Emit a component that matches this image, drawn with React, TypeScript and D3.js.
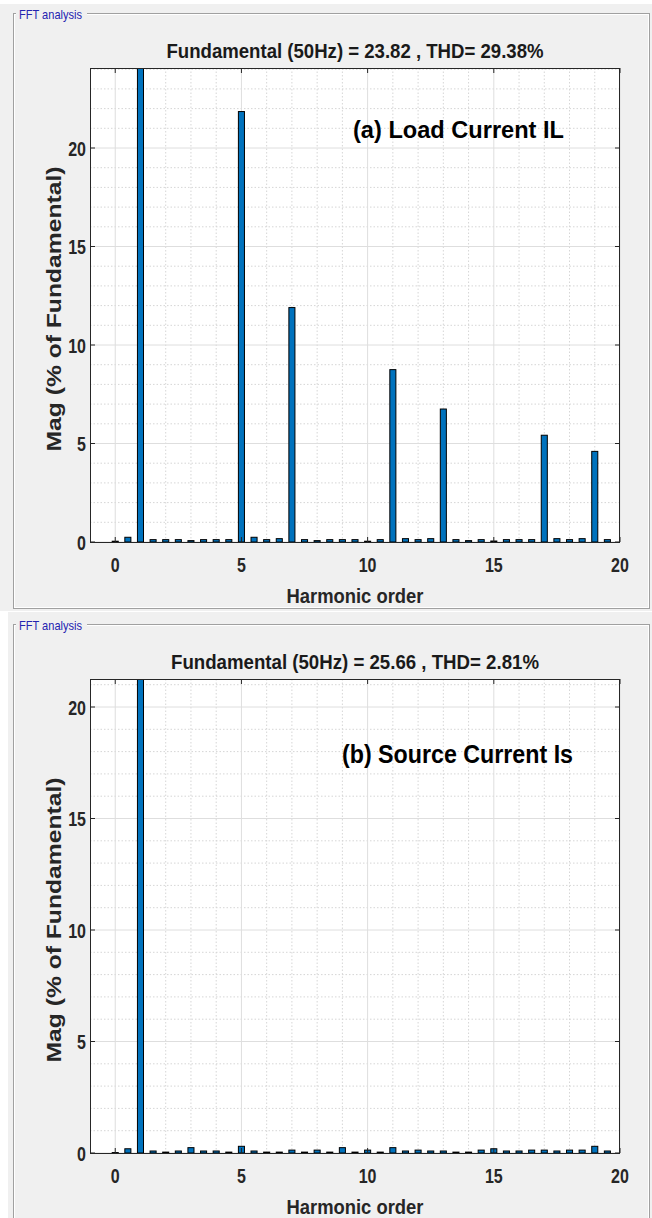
import React from 'react';
import * as d3 from 'd3';

// harmonic orders (bars every half order)
const orders = [
  0, 0.5, 1, 1.5, 2, 2.5, 3, 3.5, 4, 4.5,
  5, 5.5, 6, 6.5, 7, 7.5, 8, 8.5, 9, 9.5,
  10, 10.5, 11, 11.5, 12, 12.5, 13, 13.5, 14, 14.5,
  15, 15.5, 16, 16.5, 17, 17.5, 18, 18.5, 19, 19.5,
];

// (a) load current, % of fundamental
const loadMag = [
  0.04, 0.24, 100, 0.12, 0.12, 0.12, 0.07, 0.12, 0.12, 0.12,
  21.85, 0.24, 0.12, 0.17, 11.9, 0.12, 0.07, 0.12, 0.12, 0.12,
  0.04, 0.12, 8.75, 0.17, 0.12, 0.17, 6.75, 0.12, 0.07, 0.12,
  0.05, 0.12, 0.12, 0.12, 5.42, 0.17, 0.12, 0.17, 4.6, 0.12,
];

// (b) source current, % of fundamental
const sourceMag = [
  0.02, 0.19, 100, 0.09, 0.04, 0.09, 0.24, 0.09, 0.09, 0.04,
  0.3, 0.09, 0.04, 0.04, 0.13, 0.04, 0.13, 0.04, 0.24, 0.04,
  0.13, 0.04, 0.24, 0.09, 0.13, 0.09, 0.09, 0.04, 0.04, 0.13,
  0.19, 0.09, 0.09, 0.13, 0.13, 0.09, 0.13, 0.13, 0.3, 0.09,
];

const xTicks = [0, 5, 10, 15, 20];
const yTicks = [0, 5, 10, 15, 20];
const titles = [
  'Fundamental (50Hz) = 23.82 , THD= 29.38%',
  'Fundamental (50Hz) = 25.66 , THD= 2.81%',
];
const notes = ['(a) Load Current IL', '(b) Source Current Is'];

const FONT = '"Liberation Sans", Arial, sans-serif';

interface PanelProps {
  id: string;
  frameTop: number;
  frameBottom: number;
  top: number;
  bottom: number;
  yMax: number;
  values: number[];
  title: string;
  titleLen: number;
  note: string;
  noteX: number;
  noteY: number;
  noteSize: number;
  noteLen: number;
}

const Panel: React.FC<PanelProps> = (p) => {
  const left = 90;
  const right = 620;
  const x = d3.scaleLinear().domain([-1, 20]).range([left, right]);
  const y = d3.scaleLinear().domain([0, p.yMax]).range([p.bottom, p.top]);
  const barW = x(0.24) - x(0);

  const minorX = d3.range(0, 20).filter((v) => v % 5 !== 0);
  const minorY = d3.range(1, Math.floor(p.yMax) + 1).filter((v) => v % 5 !== 0);

  return (
    <g>
      {/* panel frame */}
      <rect x={13.5} y={p.frameTop + 0.5} width={636} height={p.frameBottom - p.frameTop}
        fill="none" stroke="#a0a0a0" />
      <rect x={14.5} y={p.frameTop + 1.5} width={634} height={p.frameBottom - p.frameTop - 2}
        fill="none" stroke="#ffffff" />
      <rect x={16} y={p.frameTop - 6} width={71} height={14} fill="#f0f0f0" />
      <text x={19} y={p.frameTop + 6} fontFamily={FONT} fontSize={13} fill="#2424b0"
        textLength={63} lengthAdjust="spacingAndGlyphs">FFT analysis</text>

      {/* title */}
      <text x={355} y={p.top - 10} textAnchor="middle" fontFamily={FONT} fontWeight="bold"
        fontSize={20} fill="#1a1a1a" textLength={p.titleLen} lengthAdjust="spacingAndGlyphs">
        {p.title}
      </text>

      {/* axes background */}
      <rect x={left} y={p.top} width={right - left} height={p.bottom - p.top} fill="#ffffff" />

      {/* grid */}
      {minorX.map((v) => (
        <line key={'mx' + v} x1={x(v)} x2={x(v)} y1={p.top} y2={p.bottom}
          stroke="#d6d6d6" strokeDasharray="1.5,2" />
      ))}
      {minorY.map((v) => (
        <line key={'my' + v} x1={left} x2={right} y1={y(v)} y2={y(v)}
          stroke="#d6d6d6" strokeDasharray="1.5,2" />
      ))}
      {xTicks.map((v) => (
        <line key={'gx' + v} x1={x(v)} x2={x(v)} y1={p.top} y2={p.bottom} stroke="#dedede" />
      ))}
      {yTicks.map((v) => (
        <line key={'gy' + v} x1={left} x2={right} y1={y(v)} y2={y(v)} stroke="#dedede" />
      ))}

      {/* bars */}
      <clipPath id={p.id}>
        <rect x={left} y={p.top} width={right - left} height={p.bottom - p.top} />
      </clipPath>
      <g clipPath={`url(#${p.id})`}>
        {orders.map((o, i) => {
          const v = Math.min(p.values[i], p.yMax + 2);
          return (
            <rect key={o} x={x(o) - barW / 2} y={y(v)} width={barW} height={y(0) - y(v)}
              fill="#0072bd" stroke="#000000" strokeWidth={1} />
          );
        })}
      </g>

      {/* ticks */}
      {xTicks.map((v) => (
        <g key={'tx' + v}>
          <line x1={x(v)} x2={x(v)} y1={p.bottom} y2={p.bottom - 5} stroke="#262626" />
          <line x1={x(v)} x2={x(v)} y1={p.top} y2={p.top + 5} stroke="#262626" />
          <text transform={`translate(${x(v)},${p.bottom + 30}) scale(0.8,1)`} textAnchor="middle"
            fontFamily={FONT} fontWeight="bold" fontSize={20} fill="#262626">{v}</text>
        </g>
      ))}
      {yTicks.map((v) => (
        <g key={'ty' + v}>
          <line x1={left} x2={left + 5} y1={y(v)} y2={y(v)} stroke="#262626" />
          <line x1={right} x2={right - 5} y1={y(v)} y2={y(v)} stroke="#262626" />
          <text transform={`translate(86,${y(v) + 7.5}) scale(0.8,1)`} textAnchor="end"
            fontFamily={FONT} fontWeight="bold" fontSize={20} fill="#262626">{v}</text>
        </g>
      ))}

      {/* box */}
      <rect x={left + 0.5} y={p.top + 0.5} width={right - left - 1} height={p.bottom - p.top}
        fill="none" stroke="#262626" />

      {/* labels */}
      <text x={355} y={p.bottom + 61} textAnchor="middle" fontFamily={FONT} fontWeight="bold"
        fontSize={20} fill="#262626" textLength={137} lengthAdjust="spacingAndGlyphs">
        Harmonic order
      </text>
      <text transform={`translate(61,${(p.top + p.bottom) / 2 + 4}) rotate(-90)`} textAnchor="middle"
        fontFamily={FONT} fontWeight="bold" fontSize={20} fill="#262626"
        textLength={285} lengthAdjust="spacingAndGlyphs">
        Mag (% of Fundamental)
      </text>

      <text x={p.noteX} y={p.noteY} fontFamily={FONT} fontWeight="bold" fontSize={p.noteSize}
        fill="#000000" textLength={p.noteLen} lengthAdjust="spacingAndGlyphs">
        {p.note}
      </text>
    </g>
  );
};

export default function App() {
  return (
    <svg width={652} height={1218}
      style={{ position: 'absolute', left: 0, top: 0, display: 'block' }}>
      <rect width={652} height={1218} fill="#f0f0f0" />
      <rect width={652} height={4} fill="#ffffff" />
      <rect x={0} y={612} width={8} height={606} fill="#ffffff" />
      <rect x={0} y={611} width={652} height={1} fill="#ffffff" />

      <Panel id="clipA" frameTop={13} frameBottom={608} top={68} bottom={542}
        yMax={(542 - 68) / 19.7} values={loadMag} title={titles[0]} titleLen={377}
        note={notes[0]} noteX={353} noteY={138} noteSize={24} noteLen={211} />
      <Panel id="clipB" frameTop={624} frameBottom={1240} top={679} bottom={1153}
        yMax={(1153 - 679) / 22.3} values={sourceMag} title={titles[1]} titleLen={368}
        note={notes[1]} noteX={342} noteY={763} noteSize={26} noteLen={231} />
    </svg>
  );
}
